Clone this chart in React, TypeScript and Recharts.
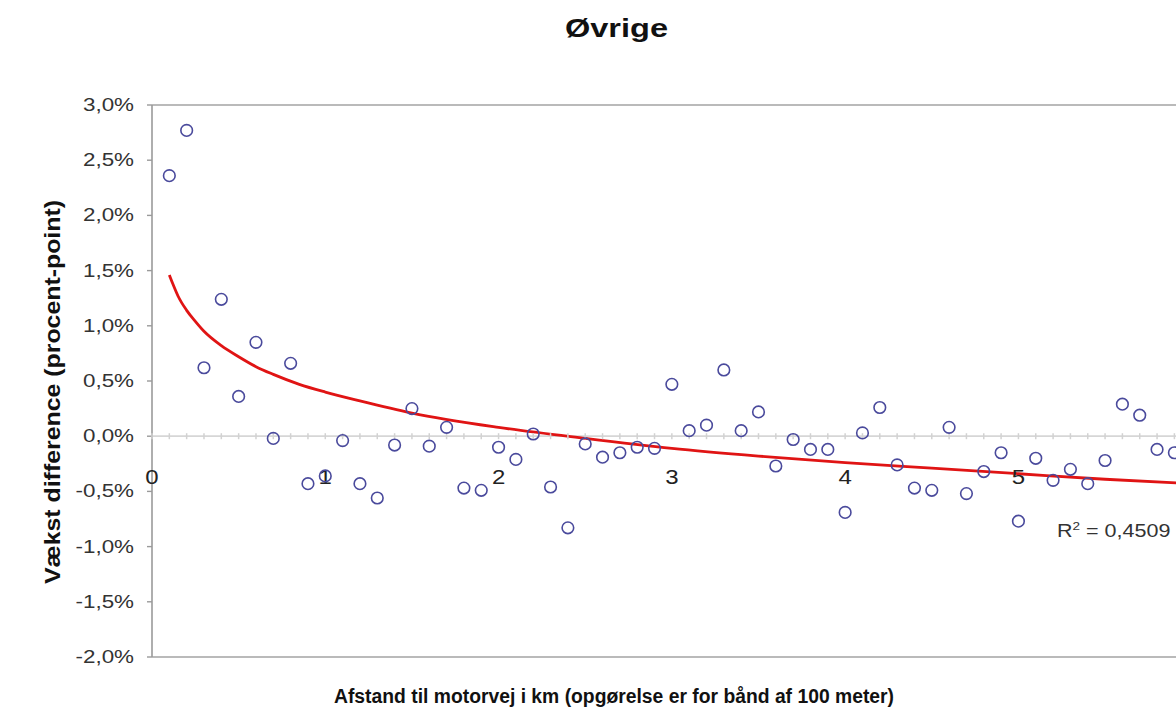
import React from 'react';
import { ComposedChart, XAxis, YAxis, Scatter, Line, ReferenceLine } from 'recharts';

// Distance to motorway (km), one point per 100 m band
const distances = [
  0.1, 0.2, 0.3, 0.4, 0.5, 0.6, 0.7, 0.8, 0.9, 1.0,
  1.1, 1.2, 1.3, 1.4, 1.5, 1.6, 1.7, 1.8, 1.9, 2.0,
  2.1, 2.2, 2.3, 2.4, 2.5, 2.6, 2.7, 2.8, 2.9, 3.0,
  3.1, 3.2, 3.3, 3.4, 3.5, 3.6, 3.7, 3.8, 3.9, 4.0,
  4.1, 4.2, 4.3, 4.4, 4.5, 4.6, 4.7, 4.8, 4.9, 5.0,
  5.1, 5.2, 5.3, 5.4, 5.5, 5.6, 5.7, 5.8, 5.9,
];

// Growth difference (percentage points)
const growthDiff = [
  2.36, 2.77, 0.62, 1.24, 0.36, 0.85, -0.02, 0.66, -0.43, -0.36,
  -0.04, -0.43, -0.56, -0.08, 0.25, -0.09, 0.08, -0.47, -0.49, -0.10,
  -0.21, 0.02, -0.46, -0.83, -0.07, -0.19, -0.15, -0.10, -0.11, 0.47,
  0.05, 0.10, 0.60, 0.05, 0.22, -0.27, -0.03, -0.12, -0.12, -0.69,
  0.03, 0.26, -0.26, -0.47, -0.49, 0.08, -0.52, -0.32, -0.15, -0.77,
  -0.20, -0.40, -0.30, -0.43, -0.22, 0.29, 0.19, -0.12, -0.15,
];

// Logarithmic trend line
const trendX = [0.1, 0.12, 0.15, 0.2, 0.25, 0.3, 0.4, 0.5, 0.6, 0.7, 0.85, 1, 1.2, 1.5, 2, 2.5, 3, 3.5, 4, 4.5, 5, 5.5, 6, 6.5, 7];
const trendY = [1.46, 1.38, 1.27, 1.14, 1.04, 0.95, 0.82, 0.72, 0.63, 0.56, 0.47, 0.40, 0.32, 0.21, 0.08, -0.02, -0.11, -0.18, -0.24, -0.29, -0.34, -0.39, -0.43, -0.46, -0.50];

// Axis ticks
const yTicks = [-2, -1.5, -1, -0.5, 0, 0.5, 1, 1.5, 2, 2.5, 3];
const xMajorTicks = [0, 1, 2, 3, 4, 5];
const xMajorLabels = ['0', '1', '2', '3', '4', '5'];
const xMinorTicks = [
  0, 0.1, 0.2, 0.3, 0.4, 0.5, 0.6, 0.7, 0.8, 0.9,
  1.0, 1.1, 1.2, 1.3, 1.4, 1.5, 1.6, 1.7, 1.8, 1.9,
  2.0, 2.1, 2.2, 2.3, 2.4, 2.5, 2.6, 2.7, 2.8, 2.9,
  3.0, 3.1, 3.2, 3.3, 3.4, 3.5, 3.6, 3.7, 3.8, 3.9,
  4.0, 4.1, 4.2, 4.3, 4.4, 4.5, 4.6, 4.7, 4.8, 4.9,
  5.0, 5.1, 5.2, 5.3, 5.4, 5.5, 5.6, 5.7, 5.8, 5.9, 6.0,
];

const title = 'Øvrige';
const yLabel = 'Vækst difference (procent-point)';
const xLabel = 'Afstand til motorvej i km (opgørelse er for bånd af 100 meter)';
const rSquared = '0,4509';

const scatterData = distances.map((x, i) => ({ x, y: growthDiff[i] }));
const trendData = trendX.map((x, i) => ({ x, y: trendY[i] }));
const minorTickData = xMinorTicks.map((x) => ({ x, y: 0 }));
const majorLabelData = xMajorTicks.map((x, i) => ({ x, y: 0, label: xMajorLabels[i] }));

const FONT = '"Liberation Sans", Arial, Helvetica, sans-serif';

const fmtPct = (v: number) => v.toFixed(1).replace('.', ',') + '%';

const YTick = (props: any) => {
  const { x, y, payload } = props;
  return (
    <text
      transform={`translate(${x},${y + 6}) scale(1.28,1)`}
      textAnchor="end"
      fontFamily={FONT}
      fontSize={17.5}
      fill="#333"
    >
      {fmtPct(payload.value)}
    </text>
  );
};

const CircleShape = (props: any) => {
  const { cx, cy } = props;
  if (cx == null || cy == null) return <g />;
  return <circle cx={cx} cy={cy} r={5.8} fill="none" stroke="#4a4a9c" strokeWidth={1.6} />;
};

const MinorTickShape = (props: any) => {
  const { cx, cy } = props;
  if (cx == null || cy == null) return <g />;
  return <line x1={cx} x2={cx} y1={cy - 3} y2={cy + 3} stroke="#d2d2d2" strokeWidth={1.5} />;
};

const MajorLabelShape = (props: any) => {
  const { cx, cy, payload } = props;
  if (cx == null || cy == null) return <g />;
  return (
    <text
      transform={`translate(${cx},${cy + 48}) scale(1.2,1)`}
      textAnchor="middle"
      fontFamily={FONT}
      fontSize={20}
      fill="#222"
    >
      {payload.label}
    </text>
  );
};

export default function App() {
  return (
    <div
      style={{
        position: 'fixed',
        left: 0,
        top: 0,
        width: 1176,
        height: 711,
        overflow: 'hidden',
        background: '#fff',
      }}
    >
      <ComposedChart
        width={1400}
        height={711}
        margin={{ top: 105, right: 35, bottom: 54, left: 0 }}
        style={{ fontFamily: FONT }}
      >
        <XAxis dataKey="x" type="number" domain={[0, 7]} hide />
        <YAxis
          dataKey="y"
          type="number"
          domain={[-2, 3]}
          ticks={yTicks}
          width={152}
          tickSize={5}
          tickMargin={13}
          tick={<YTick />}
          axisLine={{ stroke: '#9a9a9a', strokeWidth: 1.6 }}
          tickLine={{ stroke: '#9a9a9a', strokeWidth: 1.4 }}
          interval={0}
        />
        <ReferenceLine y={3} stroke="#a3a3a3" strokeWidth={1.6} />
        <ReferenceLine y={-2} stroke="#a3a3a3" strokeWidth={1.6} />
        <ReferenceLine x={7} stroke="#a3a3a3" strokeWidth={1.6} />
        <ReferenceLine y={0} stroke="#d6d6d6" strokeWidth={1.8} />
        <Scatter data={minorTickData} shape={MinorTickShape} isAnimationActive={false} />
        <Scatter data={majorLabelData} shape={MajorLabelShape} isAnimationActive={false} />
        <Scatter data={scatterData} shape={CircleShape} isAnimationActive={false} />
        <Line
          data={trendData}
          dataKey="y"
          type="monotone"
          dot={false}
          activeDot={false}
          stroke="#e01414"
          strokeWidth={2.8}
          isAnimationActive={false}
        />
      </ComposedChart>
      <svg
        width={1176}
        height={711}
        style={{ position: 'absolute', left: 0, top: 0, pointerEvents: 'none' }}
      >
        <text
          x={616.5}
          y={36.5}
          textAnchor="middle"
          fontFamily={FONT}
          fontWeight="bold"
          fontSize={25}
          fill="#111"
          textLength={103}
          lengthAdjust="spacingAndGlyphs"
        >
          {title}
        </text>
        <text
          transform="translate(59.5,392) rotate(-90)"
          textAnchor="middle"
          fontFamily={FONT}
          fontWeight="bold"
          fontSize={22}
          fill="#111"
          textLength={384}
          lengthAdjust="spacingAndGlyphs"
        >
          {yLabel}
        </text>
        <text
          x={614}
          y={703}
          textAnchor="middle"
          fontFamily={FONT}
          fontWeight="bold"
          fontSize={19.5}
          fill="#111"
          textLength={560}
          lengthAdjust="spacingAndGlyphs"
        >
          {xLabel}
        </text>
        <text transform="translate(1057,537) scale(1.23,1)" fontFamily={FONT} fontSize={17.5} fill="#333">
          R
          <tspan fontSize={11} dy={-7}>
            2
          </tspan>
          <tspan dy={7}>{' = ' + rSquared}</tspan>
        </text>
      </svg>
    </div>
  );
}
